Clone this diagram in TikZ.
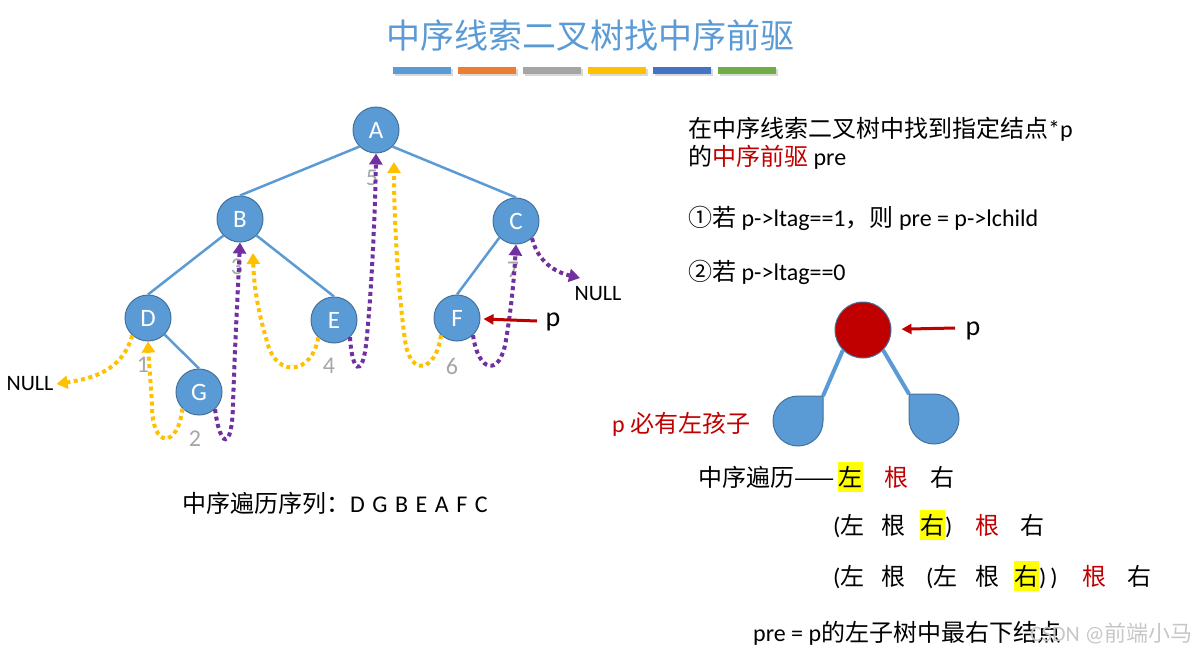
\documentclass[tikz,border=0pt]{standalone}
\usepackage{fontspec}
\setmainfont{Carlito}
\newfontfamily\cjk{Noto Sans CJK SC}
\usetikzlibrary{arrows.meta, positioning, calc}
\definecolor{NodeBlue}{HTML}{5B9BD5}
\definecolor{NodeRim}{HTML}{41719C}
\definecolor{ThreadGold}{HTML}{FFC000}
\definecolor{ThreadViolet}{HTML}{7030A0}
\definecolor{MarkRed}{HTML}{C00000}
\definecolor{NumGray}{HTML}{A6A6A6}
\definecolor{BarOrange}{HTML}{ED7D31}
\definecolor{BarGray}{HTML}{A5A5A5}
\definecolor{BarNavy}{HTML}{4472C4}
\definecolor{BarGreen}{HTML}{70AD47}
\definecolor{HiYellow}{HTML}{FFFF00}
\newcommand{\zh}[1]{{\cjk #1}}

\begin{document}
\begin{tikzpicture}[
    x=1pt, y=-1pt,
    tnode/.style={
      circle, draw=NodeRim, line width=1pt, fill=NodeBlue,
      minimum size=46pt, inner sep=0pt, text=white,
      font=\fontsize{25}{30}\selectfont,
    },
    tedge/.style={draw=NodeBlue, line width=2.5pt},
    ord/.style={text=NumGray, inner sep=0pt, font=\fontsize{24}{28}\selectfont},
    nulltext/.style={inner sep=3pt, font=\fontsize{22}{26}\selectfont},
    thread/.style={
      line width=4pt, dash pattern=on 4pt off 3.5pt,
      -{Triangle[length=11pt, width=13pt]}
    },
    goldthread/.style={thread, draw=ThreadGold},
    violetthread/.style={thread, draw=ThreadViolet},
    pointer/.style={draw=MarkRed, line width=3pt, -{Triangle[length=10pt, width=10pt]}},
    rtext/.style={
      anchor=west, inner sep=0pt, font=\fontsize{24}{29}\selectfont,
      text height=21pt, text depth=3pt,
    },
    hl/.style={rtext, fill=HiYellow, inner xsep=0.5pt, inner ysep=3pt},
    redtext/.style={rtext, text=MarkRed},
    leaf/.style={draw=NodeRim, line width=1pt, fill=NodeBlue},
  ]
    \useasboundingbox (0,0) rectangle (1194,654);

    % title and colour bars
    \node[font=\fontsize{34}{40}\selectfont, text=NodeBlue] (title) at (590,36)
      {\zh{中序线索二叉树找中序前驱}};
    \foreach \barcol [count=\i from 0] in {NodeBlue,BarOrange,BarGray,ThreadGold,BarNavy,BarGreen}{
      \fill[black!15] ({394.5+65*\i},69) rectangle ++(58,7);
      \fill[\barcol] ({393+65*\i},67) rectangle ++(58,7);
    }

    % threaded tree
    \node[tnode] (A) at (376,130) {A};
    \node[tnode] (B) at (240,219) {B};
    \node[tnode] (C) at (516,221) {C};
    \node[tnode] (D) at (148,318) {D};
    \node[tnode] (E) at (334,320) {E};
    \node[tnode] (F) at (457,318) {F};
    \node[tnode] (G) at (199,392) {G};

    \draw[tedge] (A.225) -- (B.north);
    \draw[tedge] (A.315) -- (C.north);
    \draw[tedge] (B.225) -- (D.north);
    \draw[tedge] (B.315) -- (E.north);
    \draw[tedge] (C.225) -- (F.north);
    \draw[tedge] (D.315) -- (G.north);

    \node[ord] (o1) at (143,365) {1};
    \node[ord] (o2) at (195,439) {2};
    \node[ord] (o3) at (237,267) {3};
    \node[ord] (o4) at (329,366) {4};
    \node[ord] (o5) at (372,178) {5};
    \node[ord] (o6) at (452,366) {6};
    \node[ord] (o7) at (513,270) {7};

    \node[nulltext] (nullL) at (30,384) {NULL};
    \node[nulltext] (nullR) at (598,294) {NULL};
    \coordinate (btip) at (253,253);
    \coordinate (atip) at (394,162);
    \coordinate (nullRtip) at (580,278);

    \draw[goldthread] (D.228) .. controls (122,370) and (95,378) .. (nullL.east);
    \draw[goldthread] (G.225) .. controls (178,448) and (152,450) .. (152,405)
      .. controls (151,385) and (149,365) .. (D.south);
    \draw[violetthread] (G.313) .. controls (220,448) and (232,452) .. (233,405)
      .. controls (235,340) and (238,290) .. (B.south);
    \draw[goldthread] (E.228) .. controls (312,374) and (278,378) .. (268,345)
      .. controls (259,315) and (254,290) .. (btip);
    \draw[violetthread] (E.313) .. controls (352,372) and (362,378) .. (366,345)
      .. controls (371,300) and (375,220) .. (A.south);
    \draw[goldthread] (F.227) .. controls (436,372) and (410,378) .. (405,340)
      .. controls (398,290) and (394,220) .. (atip);
    \draw[violetthread] (F.313) .. controls (478,372) and (500,378) .. (506,340)
      .. controls (511,310) and (514,280) .. (C.south);
    \draw[violetthread] (C.313) .. controls (538,262) and (555,272) .. (nullRtip);

    \node[font=\fontsize{28}{32}\selectfont, inner sep=0pt] (pmark) at (553,322) {p};
    \coordinate (ptail) at (537,321);
    \draw[pointer, shorten >=3pt] (ptail) -- (F);

    \node[rtext, font=\fontsize{24}{29}\selectfont] (inorder) at (182,503)
      {\zh{中序遍历序列：}{\spaceskip=7.5pt D G B E A F C}};

    % right half
    \node[rtext] (goal1) at (688,128) {\zh{在中序线索二叉树中找到指定结点}*p};
    \node[rtext] (goal2) at (688,156) {\zh{的\textcolor{MarkRed}{中序前驱}} pre};
    \node[rtext] (case1) at (688,217) {\zh{①若} p->ltag==1\zh{，则} pre = p->lchild};
    \node[rtext] (case2) at (688,271) {\zh{②若} p->ltag==0};

    \node[circle, draw=NodeRim, line width=1pt, fill=MarkRed, minimum size=56pt] (P) at (863,330) {};
    \node[font=\fontsize{28}{32}\selectfont, inner sep=0pt] (pmark2) at (973,331) {p};
    \coordinate (ptail2) at (955,328);
    \draw[pointer, shorten >=10pt] (ptail2) -- (P);

    \coordinate (lcorner) at (823,396);
    \coordinate (rcorner) at (909,394);
    \draw[tedge, line width=4pt] (P.225) -- (lcorner);
    \draw[tedge, line width=4pt] (P.315) -- (rcorner);
    \draw[leaf] (lcorner) -- (823,421) .. controls (823,434.8) and (811.8,446) .. (798,446)
      .. controls (784.2,446) and (773,434.8) .. (773,421)
      .. controls (773,407.2) and (784.2,396) .. (798,396) -- cycle;
    \draw[leaf] (rcorner) -- (934,394) .. controls (947.8,394) and (959,405.2) .. (959,419)
      .. controls (959,432.8) and (947.8,444) .. (934,444)
      .. controls (920.2,444) and (909,432.8) .. (909,419) -- cycle;
    \node[redtext] (hint) at (612,423) {p \zh{必有左孩子}};

    \node[rtext] (r1a) at (698,477) {\zh{中序遍历——}};
    \node[hl] (r1b) at (838,477) {\zh{左}};
    \node[redtext] (r1c) at (884,477) {\zh{根}};
    \node[rtext] (r1d) at (930,477) {\zh{右}};

    \node[rtext] (r2a) at (833,525) {(\zh{左}};
    \node[rtext] (r2b) at (881,525) {\zh{根}};
    \node[hl] (r2c) at (920,525) {\zh{右}};
    \node[rtext] (r2d) at (945,525) {)};
    \node[redtext] (r2e) at (975,525) {\zh{根}};
    \node[rtext] (r2f) at (1020,525) {\zh{右}};

    \node[rtext] (r3a) at (833,576) {(\zh{左}};
    \node[rtext] (r3b) at (881,576) {\zh{根}};
    \node[rtext] (r3c) at (926,576) {(\zh{左}};
    \node[rtext] (r3d) at (975,576) {\zh{根}};
    \node[hl] (r3e) at (1014,576) {\zh{右}};
    \node[rtext] (r3f) at (1039,576) {)\,)};
    \node[redtext] (r3g) at (1082,576) {\zh{根}};
    \node[rtext] (r3h) at (1127,576) {\zh{右}};

    \node[rtext] (r4) at (753,632) {pre = p\zh{的左子树中最右下结点}};
    \node[rtext, text=black!22, font=\fontsize{22}{26}\selectfont] (mark) at (1030,632)
      {CSDN @\zh{前端小马}};
  \end{tikzpicture}
\end{document}
